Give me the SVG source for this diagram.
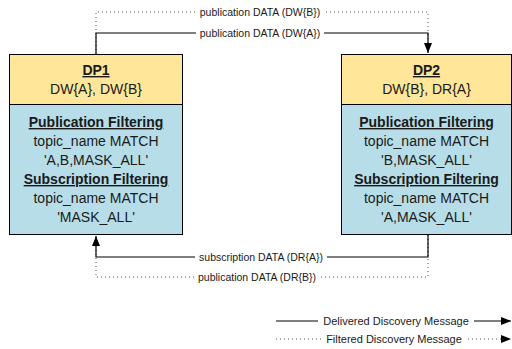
<svg xmlns="http://www.w3.org/2000/svg" width="512" height="349" viewBox="0 0 512 349">
<defs>
<marker id="ah" viewBox="0 0 10 8" refX="10" refY="4" markerWidth="10" markerHeight="8" markerUnits="userSpaceOnUse" orient="auto">
<path d="M0,0 L10,4 L0,8 z" fill="#000"/>
</marker>
<style>
.t{font-family:"Liberation Sans",Arial,sans-serif;font-size:14px;fill:#1a1a1a;text-anchor:middle}
.b{font-weight:bold;text-decoration:underline}
.lb{font-family:"Liberation Sans",Arial,sans-serif;font-size:10.5px;fill:#1a1a1a;text-anchor:middle}
.lg{font-family:"Liberation Sans",Arial,sans-serif;font-size:11px;fill:#1a1a1a;text-anchor:middle}
.s{fill:none;stroke:#000;stroke-width:1.2}
.d{fill:none;stroke:#555;stroke-width:1;stroke-dasharray:1 3}
.box{stroke:#000;stroke-width:1}
.bg{fill:#fff}
</style>
</defs>
<rect width="512" height="349" fill="#fff"/>
<g id="connectors">
<path class="d" d="M96,54 V12 H428 V54"/>
<path class="s" d="M96,54 V33 H428 V53" marker-end="url(#ah)"/>
<path class="d" d="M428,235 V277 H96 V236"/>
<path class="s" d="M428,235 V257 H96 V236" marker-end="url(#ah)"/>
<rect class="bg" x="197" y="5" width="126" height="13"/>
<text class="lb" x="260" y="16">publication DATA (DW{B})</text>
<rect class="bg" x="196" y="26" width="128" height="13"/>
<text class="lb" x="260" y="37">publication DATA (DW{A})</text>
<rect class="bg" x="195" y="250" width="132" height="13"/>
<text class="lb" x="261" y="261">subscription DATA (DR{A})</text>
<rect class="bg" x="196" y="270" width="123" height="13"/>
<text class="lb" x="257" y="281">publication DATA (DR{B})</text>
</g>
<g id="DP1">
<rect class="box" x="9.5" y="54.5" width="173" height="50" fill="#FFE699"/>
<rect class="box" x="9.5" y="104.5" width="173" height="130" fill="#B7DEE8"/>
<text class="t b" x="96" y="75">DP1</text>
<text class="t" x="96" y="94">DW{A}, DW{B}</text>
<text class="t b" x="96" y="127">Publication Filtering</text>
<text class="t" x="96" y="146">topic_name MATCH</text>
<text class="t" x="96" y="165">'A,B,MASK_ALL'</text>
<text class="t b" x="96" y="184">Subscription Filtering</text>
<text class="t" x="96" y="203">topic_name MATCH</text>
<text class="t" x="96" y="222">'MASK_ALL'</text>
</g>
<g id="DP2">
<rect class="box" x="341.5" y="54.5" width="170" height="50" fill="#FFE699"/>
<rect class="box" x="341.5" y="104.5" width="170" height="130" fill="#B7DEE8"/>
<text class="t b" x="426.5" y="75">DP2</text>
<text class="t" x="426.5" y="94">DW{B}, DR{A}</text>
<text class="t b" x="426.5" y="127">Publication Filtering</text>
<text class="t" x="426.5" y="146">topic_name MATCH</text>
<text class="t" x="426.5" y="165">'B,MASK_ALL'</text>
<text class="t b" x="426.5" y="184">Subscription Filtering</text>
<text class="t" x="426.5" y="203">topic_name MATCH</text>
<text class="t" x="426.5" y="222">'A,MASK_ALL'</text>
</g>
<g id="legend">
<path class="s" d="M276,321 H511" marker-end="url(#ah)"/>
<path class="d" d="M276,339 H511" marker-end="url(#ah)"/>
<rect class="bg" x="318" y="314" width="156" height="13"/>
<text class="lg" x="396" y="325">Delivered Discovery Message</text>
<rect class="bg" x="323" y="332" width="143" height="13"/>
<text class="lg" x="394" y="343">Filtered Discovery Message</text>
</g>
</svg>
